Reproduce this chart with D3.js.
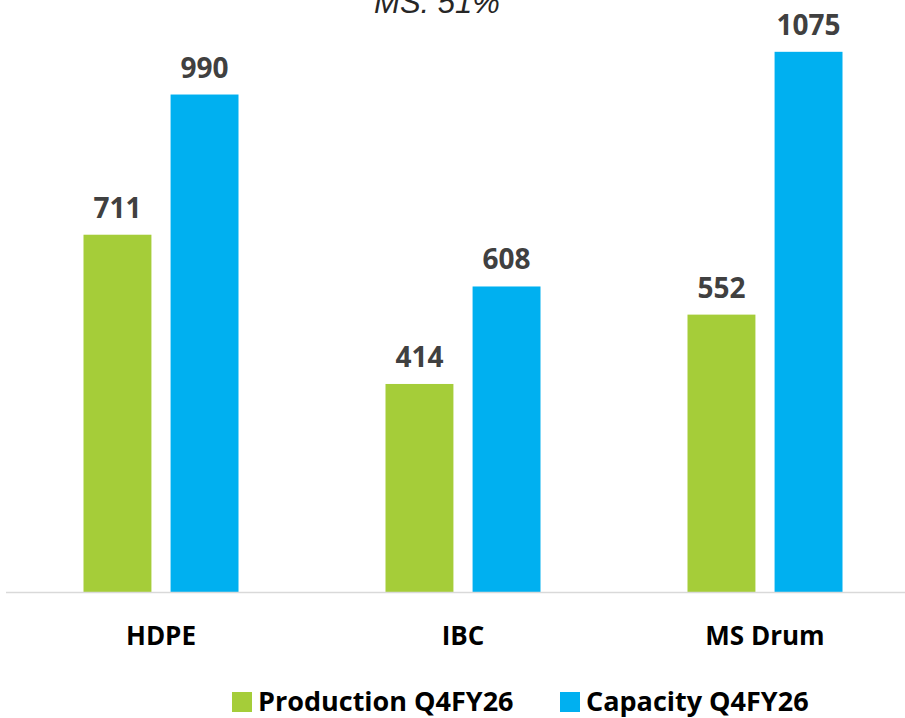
<!DOCTYPE html>
<html>
<head>
<meta charset="utf-8">
<script src="https://cdn.jsdelivr.net/npm/d3@7"></script>
<style>
  body { margin: 0; background: #fff; }
  svg { display: block; }
</style>
</head>
<body>
<script>
// Chart data
const categories = ["HDPE", "IBC", "MS Drum"];
const seriesNames = ["Production Q4FY26", "Capacity Q4FY26"];
const production = [711, 414, 552];
const capacity = [990, 608, 1075];
const colors = ["#A5CD39", "#00B0F0"];

const width = 905, height = 718;
const baseline = 592;

const svg = d3.select("body").append("svg")
  .attr("width", width)
  .attr("height", height);

const data = categories.map((c, i) => ({ cat: c, values: [production[i], capacity[i]] }));

// Scales
const x0 = d3.scaleBand()
  .domain(categories)
  .range([10, 916]);

const x1 = d3.scaleBand()
  .domain([0, 1])
  .range([0, 155])
  .paddingInner(0.22);

const y = d3.scaleLinear()
  .domain([0, 1000])
  .range([baseline, 89.5]);

// Title (partly cut off at the top, as in the original)
svg.append("text")
  .attr("x", 437)
  .attr("y", 13)
  .attr("text-anchor", "middle")
  .style("font-family", "'Liberation Sans', Arial, sans-serif")
  .style("font-style", "italic")
  .style("font-size", "31px")
  .style("fill", "#262626")
  .text("MS: 51%");

// Bars
const groups = svg.selectAll(".group")
  .data(data)
  .enter()
  .append("g")
  .attr("class", "group")
  .attr("transform", d => `translate(${x0(d.cat) + x0.bandwidth() / 2 - 77.5},0)`);

groups.selectAll("rect")
  .data(d => d.values.map((v, i) => ({ i, v })))
  .enter()
  .append("rect")
  .attr("x", d => x1(d.i))
  .attr("y", d => y(d.v))
  .attr("width", x1.bandwidth())
  .attr("height", d => baseline - y(d.v))
  .attr("fill", d => colors[d.i]);

// Value labels
groups.selectAll(".val")
  .data(d => d.values.map((v, i) => ({ i, v })))
  .enter()
  .append("text")
  .attr("class", "val")
  .attr("x", d => x1(d.i) + x1.bandwidth() / 2)
  .attr("y", d => y(d.v) - 17)
  .attr("text-anchor", "middle")
  .style("font-family", "'Open Sans', sans-serif")
  .style("font-weight", "bold")
  .style("font-size", "28px")
  .style("fill", "#404040")
  .text(d => d.v);

// Axis line
svg.append("line")
  .attr("x1", 6)
  .attr("x2", width)
  .attr("y1", baseline + 0.5)
  .attr("y2", baseline + 0.5)
  .attr("stroke", "#d9d9d9")
  .attr("stroke-width", 1.5);

// Category labels
svg.selectAll(".cat")
  .data(categories)
  .enter()
  .append("text")
  .attr("class", "cat")
  .attr("x", d => x0(d) + x0.bandwidth() / 2)
  .attr("y", 645)
  .attr("text-anchor", "middle")
  .style("font-family", "'Open Sans', sans-serif")
  .style("font-weight", "bold")
  .style("font-size", "26px")
  .style("fill", "#000")
  .text(d => d);

// Legend
const legendX = [232, 560];
const legend = svg.selectAll(".legend")
  .data(seriesNames)
  .enter()
  .append("g")
  .attr("class", "legend")
  .attr("transform", (d, i) => `translate(${legendX[i]},0)`);

legend.append("rect")
  .attr("x", 0)
  .attr("y", 692)
  .attr("width", 20)
  .attr("height", 20)
  .attr("fill", (d, i) => colors[i]);

legend.append("text")
  .attr("x", 26)
  .attr("y", 711)
  .style("font-family", "'Open Sans', sans-serif")
  .style("font-weight", "bold")
  .style("font-size", "27px")
  .style("fill", "#000")
  .text(d => d);
</script>
</body>
</html>
